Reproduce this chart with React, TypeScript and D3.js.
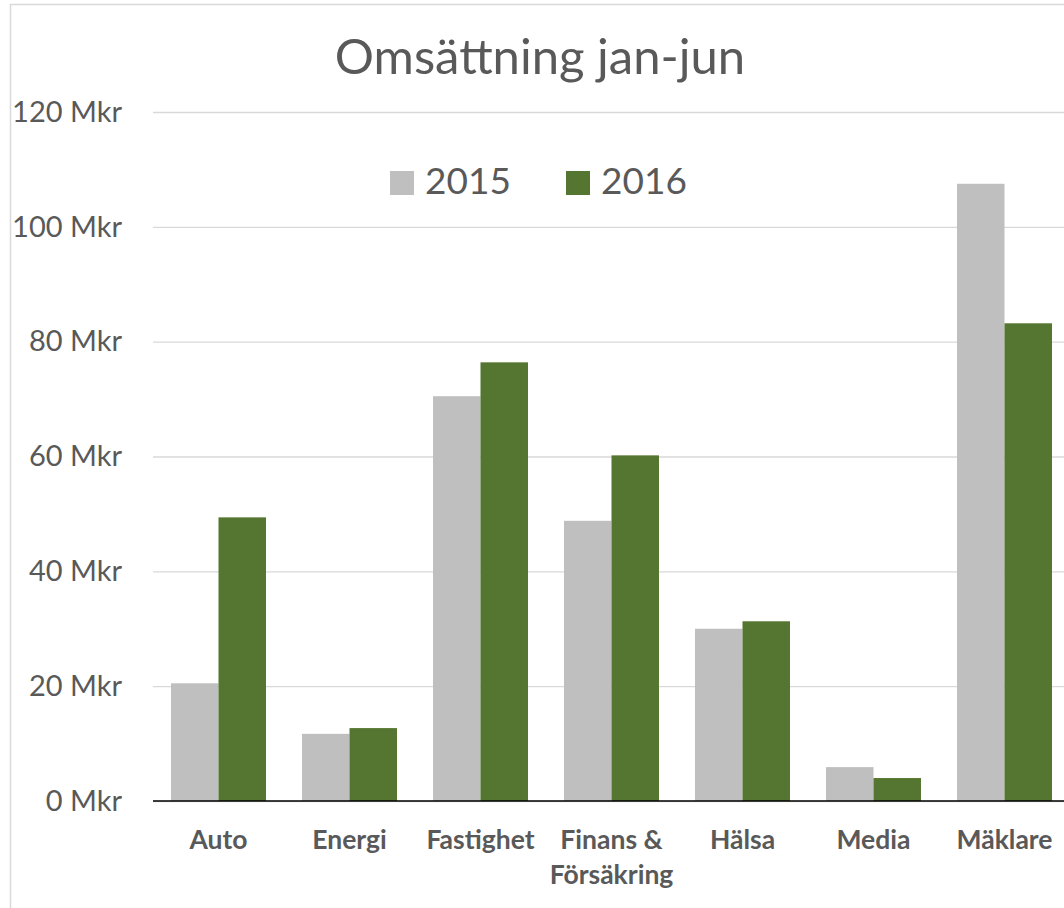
import React, { useEffect, useRef } from "react";
import * as d3 from "d3";

const categories = ["Auto", "Energi", "Fastighet", "Finans & Försäkring", "Hälsa", "Media", "Mäklare"];
const seriesNames = ["2015", "2016"];
const values2015 = [20.5, 11.7, 70.5, 48.8, 30.0, 5.9, 107.5];
const values2016 = [49.4, 12.7, 76.4, 60.2, 31.3, 4.0, 83.2];
const yTicks = [0, 20, 40, 60, 80, 100, 120];
const colors = ["#bfbfbf", "#557630"];
const title = "Omsättning jan-jun";

const App = () => {
  const chartRef = useRef<HTMLDivElement>(null);

  useEffect(() => {
    const width = 1064;
    const height = 908;
    const marginLeft = 153;
    const step = 131;
    const font = "Lato, 'Open Sans', sans-serif";
    const textColor = "#595959";

    const data = categories.map((c, i) => ({ category: c, values: [values2015[i], values2016[i]] }));

    const x = d3
      .scaleBand()
      .domain(categories)
      .range([marginLeft, marginLeft + step * categories.length])
      .paddingInner(0.275)
      .paddingOuter(0.1375);

    const xSeries = d3.scaleBand().domain(seriesNames).range([0, x.bandwidth()]);

    const y = d3.scaleLinear().domain([0, 120]).range([801, 112]);

    d3.select(chartRef.current).selectAll("*").remove();

    const svg = d3
      .select(chartRef.current)
      .append("svg")
      .attr("width", width)
      .attr("height", height)
      .attr("viewBox", [0, 0, width, height])
      .style("display", "block")
      .style("font-family", font);

    svg.append("rect").attr("width", width).attr("height", height).attr("fill", "#ffffff");

    // chart frame (cut off on the right and bottom)
    svg
      .append("rect")
      .attr("x", 10.5)
      .attr("y", 4.5)
      .attr("width", width + 20)
      .attr("height", height + 20)
      .attr("fill", "none")
      .attr("stroke", "#d9d9d9")
      .attr("stroke-width", 1.5);

    // title
    svg
      .append("text")
      .attr("x", 540)
      .attr("y", 74)
      .attr("text-anchor", "middle")
      .attr("fill", textColor)
      .attr("font-size", 49)
      .text(title);

    // grid + y labels
    const yAxis = d3
      .axisLeft(y)
      .tickValues(yTicks)
      .tickSize(-(width - marginLeft + 20))
      .tickPadding(31)
      .tickFormat((d) => `${d} Mkr`);

    svg
      .append("g")
      .attr("transform", `translate(${marginLeft},0)`)
      .call(yAxis)
      .call((g) => g.select(".domain").remove())
      .call((g) => g.selectAll(".tick line").attr("stroke", "#d9d9d9").attr("stroke-width", 1.3))
      .call((g) =>
        g
          .selectAll(".tick text")
          .attr("fill", textColor)
          .attr("font-size", 29)
          .attr("font-family", font)
      );

    // bars
    svg
      .append("g")
      .selectAll("g")
      .data(data)
      .join("g")
      .attr("transform", (d) => `translate(${x(d.category)},0)`)
      .selectAll("rect")
      .data((d) => d.values.map((v, i) => ({ key: seriesNames[i], value: v, i })))
      .join("rect")
      .attr("x", (d) => xSeries(d.key)!)
      .attr("y", (d) => y(d.value))
      .attr("width", xSeries.bandwidth())
      .attr("height", (d) => y(0) - y(d.value))
      .attr("fill", (d) => colors[d.i]);

    // x axis line
    svg
      .append("line")
      .attr("x1", marginLeft)
      .attr("x2", width)
      .attr("y1", y(0))
      .attr("y2", y(0))
      .attr("stroke", "#000000")
      .attr("stroke-width", 1.6);

    // category labels, wrapping "Finans & Försäkring"
    const labels = svg
      .append("g")
      .selectAll("text")
      .data(categories)
      .join("text")
      .attr("x", (d) => x(d)! + x.bandwidth() / 2)
      .attr("y", 849)
      .attr("text-anchor", "middle")
      .attr("fill", textColor)
      .attr("font-size", 26.5)
      .attr("font-weight", "bold");

    labels
      .selectAll("tspan")
      .data((d) => (d === "Finans & Försäkring" ? ["Finans &", "Försäkring"] : [d]))
      .join("tspan")
      .attr("x", function () {
        return (this.parentNode as SVGTextElement).getAttribute("x");
      })
      .attr("dy", (_d, i) => (i === 0 ? 0 : 35))
      .text((d) => d);

    // legend
    const legend = svg
      .append("g")
      .selectAll("g")
      .data(seriesNames)
      .join("g")
      .attr("transform", (_d, i) => `translate(${390 + i * 176},171)`);

    legend.append("rect").attr("width", 24).attr("height", 24).attr("fill", (_d, i) => colors[i]);

    legend
      .append("text")
      .attr("x", 35)
      .attr("y", 23)
      .attr("fill", textColor)
      .attr("font-size", 37)
      .text((d) => d);
  }, []);

  return <div ref={chartRef} style={{ position: "absolute", left: 0, top: 0 }}></div>;
};

export default App;
